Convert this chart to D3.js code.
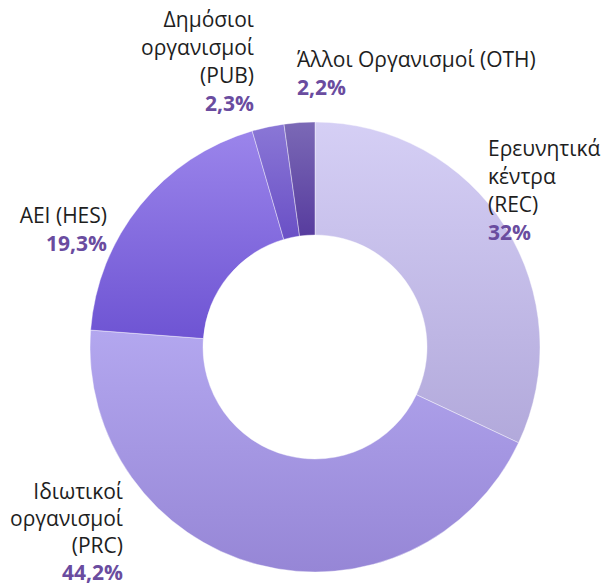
<!DOCTYPE html>
<html>
<head>
<meta charset="utf-8">
<script src="https://cdn.jsdelivr.net/npm/d3@7"></script>
<style>
    body { margin: 0; background: #fff; }
    svg { display: block; font-family: "Open Sans", "Noto Sans", sans-serif; }
</style>
</head>
<body>
<div class="chart-container"></div>
<script>
// --- Data ---
const codes = ["REC", "PRC", "HES", "PUB", "OTH"];
const labelLines = [
    ["Ερευνητικά", "κέντρα", "(REC)"],
    ["Ιδιωτικοί", "οργανισμοί", "(PRC)"],
    ["ΑΕΙ (HES)"],
    ["Δημόσιοι", "οργανισμοί", "(PUB)"],
    ["Άλλοι Οργανισμοί (OTH)"]
];
const shares = [32, 44.2, 19.3, 2.3, 2.2];
const shareLabels = ["32%", "44,2%", "19,3%", "2,3%", "2,2%"];

// --- Styles / layout ---
const width = 604, height = 585;
const center = { x: 315, y: 347 };
const outerR = 225, innerR = 112;
const fontSize = 21;

// gradient top / bottom colour per slice
const sliceColors = {
    REC: ["#d5cff5", "#b2a9db"],
    PRC: ["#b3a7ef", "#9686d6"],
    HES: ["#9b85eb", "#6e54d3"],
    PUB: ["#8a77d6", "#6a50c6"],
    OTH: ["#7b69b6", "#573c9e"]
};

// label block: anchor x, first baseline y, line step, side
const labelLayout = {
    REC: { x: 488, y: 156, step: 28, anchor: "start" },
    PRC: { x: 123, y: 499, step: 27, anchor: "end" },
    HES: { x: 107, y: 223, step: 28, anchor: "end" },
    PUB: { x: 254, y: 27, step: 28, anchor: "end" },
    OTH: { x: 297, y: 67, step: 28, anchor: "start" }
};

const svg = d3.select(".chart-container").append("svg")
    .attr("width", width)
    .attr("height", height);

const defs = svg.append("defs");
codes.forEach(c => {
    const g = defs.append("linearGradient")
        .attr("id", "grad-" + c)
        .attr("x1", 0).attr("y1", 0).attr("x2", 0).attr("y2", 1);
    g.append("stop").attr("offset", "0%").attr("stop-color", sliceColors[c][0]);
    g.append("stop").attr("offset", "100%").attr("stop-color", sliceColors[c][1]);
});

const data = codes.map((c, i) => ({ code: c, value: shares[i], lines: labelLines[i], pct: shareLabels[i] }));

const pie = d3.pie().value(d => d.value).sort(null);
const arc = d3.arc().innerRadius(innerR).outerRadius(outerR);

const g = svg.append("g").attr("transform", `translate(${center.x},${center.y})`);

g.selectAll("path.slice")
    .data(pie(data))
    .enter()
    .append("path")
    .attr("class", "slice")
    .attr("d", arc)
    .attr("fill", d => `url(#grad-${d.data.code})`)
    .attr("stroke", "#fff")
    .attr("stroke-opacity", 0.5)
    .attr("stroke-width", 0.8);

// --- Labels ---
const labels = svg.selectAll("text.label")
    .data(data)
    .enter()
    .append("text")
    .attr("class", "label")
    .attr("text-anchor", d => labelLayout[d.code].anchor)
    .style("font-size", fontSize + "px");

labels.each(function (d) {
    const t = d3.select(this);
    const lay = labelLayout[d.code];
    d.lines.forEach((line, i) => {
        t.append("tspan")
            .attr("x", lay.x)
            .attr("y", lay.y + i * lay.step)
            .attr("fill", "#1e1e1e")
            .text(line);
    });
    t.append("tspan")
        .attr("x", lay.x)
        .attr("y", lay.y + d.lines.length * lay.step)
        .attr("fill", "#6a4c9f")
        .style("font-weight", "bold")
        .text(d.pct);
});
</script>
</body>
</html>
